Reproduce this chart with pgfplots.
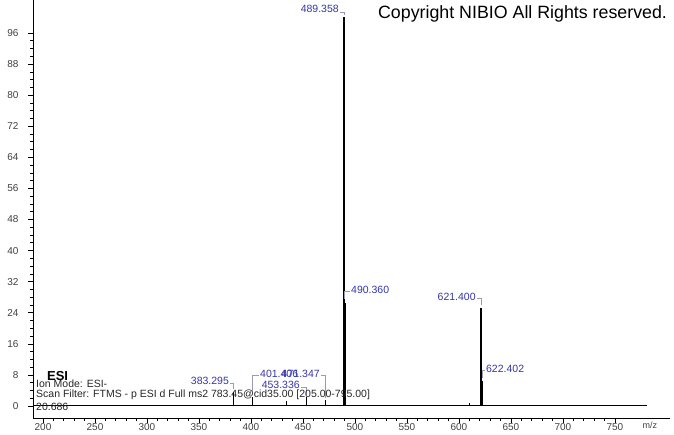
\documentclass[border=0pt]{standalone}
\usepackage{fontspec}
\setmainfont{Liberation Sans}
\usepackage{pgfplots}
\pgfplotsset{compat=1.18}
\definecolor{lblue}{HTML}{3535A8}
\definecolor{brk}{HTML}{9A9AB8}
\tikzset{
 plab/.style={font=\fontsize{10.5}{12}\selectfont,text=lblue,inner sep=0pt},
 brkt/.style={draw=brk,line width=0.6pt},
 info/.style={font=\fontsize{10.5}{12}\selectfont,text=black!85,inner sep=0pt,anchor=west}
}
\begin{document}
\begin{tikzpicture}[x=1pt,y=1pt]
\begin{axis}[name=ax,scale only axis,width=637pt,height=418pt,
 xmin=190.4,xmax=803,ymin=-3.1,ymax=104.5,
 axis x line=bottom,axis y line=left,
 axis line style={-,line width=0.8pt},
 xtick={200,250,...,750},ytick={0,8,...,96},
 minor x tick num=4,minor y tick num=3,
 tick align=outside,major tick length=5pt,minor tick length=3pt,
 tick style={black,line width=0.6pt},
 ticklabel style={font=\fontsize{10}{12}\selectfont,text=black!75},
 yticklabel style={xshift=-6pt},
 xticklabel style={yshift=3.5pt},
 /pgf/number format/assume math mode=true,
 clip=false]
% baseline
\addplot[black,line width=1pt] coordinates {(190.4,0) (781,0)};
% main peaks
\addplot[ycomb,black,line width=1.5pt] coordinates {
 (489.358,100) (490.360,26.5) (621.400,25.2) (622.402,6.5)};
% minor peaks
\addplot[ycomb,black,line width=1pt] coordinates {
 (383.295,3.6) (401.406,2.3) (453.336,2.3) (471.347,1.5)
 (434.3,1.2) (609.9,0.8)};
% peak labels
\node[plab,anchor=east] at (axis cs:484.6,102.3) {489.358};
\draw[brkt] (axis cs:485.5,101.4) -- (axis cs:489.358,101.4) -- (axis cs:489.358,100.6);
\node[plab,anchor=west] at (axis cs:496.2,29.9) {490.360};
\draw[brkt] (axis cs:490.0,27.5) -- (axis cs:490.0,29.4) -- (axis cs:495.3,29.4);
\node[plab,anchor=east] at (axis cs:616.3,28.2) {621.400};
\draw[brkt] (axis cs:617.3,27.7) -- (axis cs:621.4,27.7) -- (axis cs:621.4,25.9);
\node[plab,anchor=west] at (axis cs:626.0,9.6) {622.402};
\draw[brkt] (axis cs:622.4,7.3) -- (axis cs:622.4,9.2) -- (axis cs:625.2,9.2);
\node[plab,anchor=east] at (axis cs:379.0,6.4) {383.295};
\draw[brkt] (axis cs:380.0,5.9) -- (axis cs:383.295,5.9) -- (axis cs:383.295,4.3);
\node[plab,anchor=west] at (axis cs:408.7,8.2) {401.406};
\draw[brkt] (axis cs:401.406,2.9) -- (axis cs:401.406,7.9) -- (axis cs:407.8,7.9);
\node[plab,anchor=east] at (axis cs:466.3,8.2) {471.347};
\draw[brkt] (axis cs:467.2,7.9) -- (axis cs:471.347,7.9) -- (axis cs:471.347,2.1);
\node[plab,anchor=east] at (axis cs:447.1,5.4) {453.336};
\draw[brkt] (axis cs:448.0,4.9) -- (axis cs:453.336,4.9) -- (axis cs:453.336,2.9);
% header info
\node[anchor=west,inner sep=0pt,font=\bfseries\fontsize{13}{14}\selectfont] at (axis cs:203.8,7.7) {ESI};
\node[info] at (axis cs:193.3,5.7) {Ion Mode: ESI-};
\node[info] at (axis cs:193.3,2.8) {Scan Filter: FTMS - p ESI d Full ms2 783.45@cid35.00 [205.00-795.00]};
\node[info] at (axis cs:193.3,-0.3) {20.686};
\node[anchor=west,inner sep=0pt,font=\fontsize{17.8}{19}\selectfont] at (axis cs:522.1,100.9) {Copyright NIBIO All Rights reserved.};
\node[inner sep=0pt,font=\fontsize{9}{10}\selectfont,text=black!75] at (axis cs:783.7,-5.0) {m/z};
\end{axis}
\pgfresetboundingbox
\useasboundingbox (-33pt,-16pt) rectangle (641pt,418pt);
\end{tikzpicture}
\end{document}
